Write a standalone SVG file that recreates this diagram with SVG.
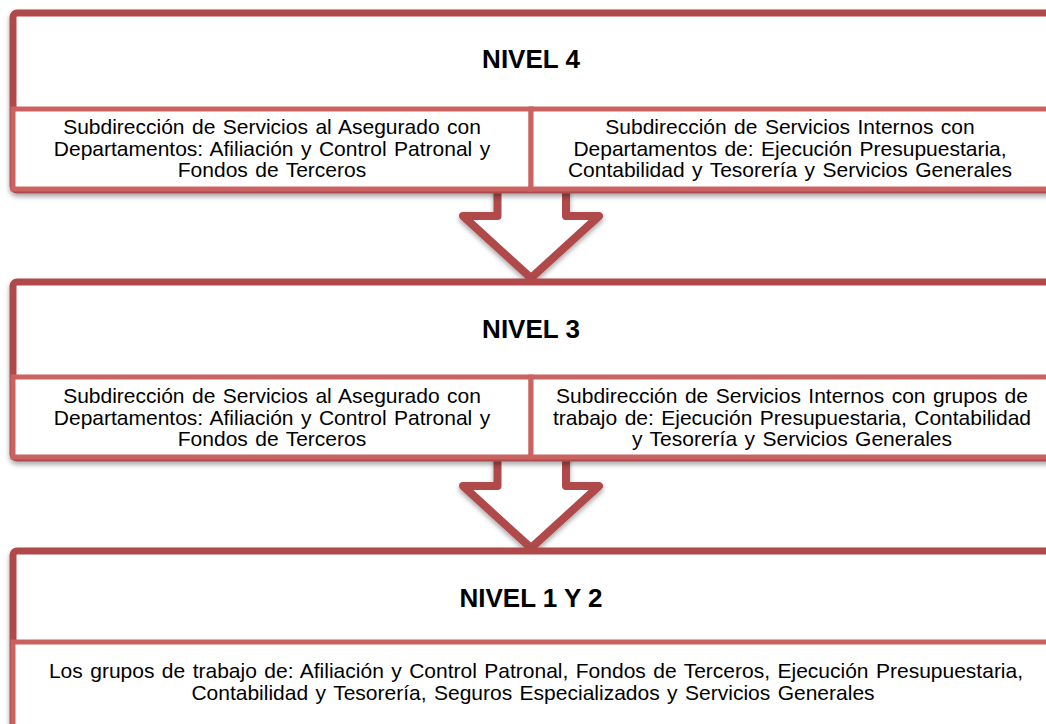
<svg xmlns="http://www.w3.org/2000/svg" width="1046" height="724" viewBox="0 0 1046 724">
  <style>
    .outer { fill: #ffffff; stroke: #B0484A; stroke-width: 7; }
    .sub { fill: #ffffff; stroke: #CB6262; stroke-width: 5; }
    .arrow { fill: #ffffff; stroke: #B0484A; stroke-width: 8; stroke-linejoin: round; }
    .title { font-family: "Liberation Sans", Arial, sans-serif; font-weight: bold; font-size: 26px; fill: #000000; text-anchor: middle; }
    .body { font-family: "Liberation Sans", Arial, sans-serif; font-size: 21px; fill: #000000; text-anchor: middle; word-spacing: 1.6px; }
  </style>
  <defs>
    <filter id="shadow" x="-5%" y="-10%" width="110%" height="130%">
      <feDropShadow dx="0" dy="3" stdDeviation="2.5" flood-color="#000000" flood-opacity="0.35"/>
    </filter>
  </defs>
  <rect width="1046" height="724" fill="#ffffff"/>

  <g id="connectors">
    <path class="arrow" filter="url(#shadow)" d="M497.5,180 L497.5,216 L463,216 L531,278 L599,216 L566,216 L566,180 Z"/>
    <path class="arrow" filter="url(#shadow)" d="M497.5,450 L497.5,486 L463,486 L531,548 L599,486 L566,486 L566,450 Z"/>
  </g>

  <g id="nivel4">
    <rect class="outer" filter="url(#shadow)" x="13" y="13" width="1045" height="177" rx="4"/>
    <text class="title" x="531" y="68">NIVEL 4</text>
    <g id="nivel4-a">
      <rect class="sub" x="13" y="109" width="518" height="80"/>
      <text class="body" x="272" y="134">Subdirección de Servicios al Asegurado con</text>
      <text class="body" x="272" y="155.5">Departamentos: Afiliación y Control Patronal y</text>
      <text class="body" x="272" y="177">Fondos de Terceros</text>
    </g>
    <g id="nivel4-b">
      <rect class="sub" x="531" y="109" width="527" height="80"/>
      <text class="body" x="790" y="134">Subdirección de Servicios Internos con</text>
      <text class="body" x="790" y="155.5">Departamentos de: Ejecución Presupuestaria,</text>
      <text class="body" x="790" y="177">Contabilidad y Tesorería y Servicios Generales</text>
    </g>
  </g>

  <g id="nivel3">
    <rect class="outer" filter="url(#shadow)" x="13" y="282" width="1045" height="176" rx="4"/>
    <text class="title" x="531" y="338">NIVEL 3</text>
    <g id="nivel3-a">
      <rect class="sub" x="13" y="377" width="518" height="80"/>
      <text class="body" x="272" y="403">Subdirección de Servicios al Asegurado con</text>
      <text class="body" x="272" y="424.5">Departamentos: Afiliación y Control Patronal y</text>
      <text class="body" x="272" y="446">Fondos de Terceros</text>
    </g>
    <g id="nivel3-b">
      <rect class="sub" x="531" y="377" width="527" height="80"/>
      <text class="body" x="792" y="403">Subdirección de Servicios Internos con grupos de</text>
      <text class="body" x="792" y="424.5">trabajo de: Ejecución Presupuestaria, Contabilidad</text>
      <text class="body" x="792" y="446">y Tesorería y Servicios Generales</text>
    </g>
  </g>

  <g id="nivel12">
    <rect class="outer" filter="url(#shadow)" x="13" y="551" width="1045" height="190" rx="4"/>
    <text class="title" x="531" y="607">NIVEL 1 Y 2</text>
    <g id="nivel12-a">
      <rect class="sub" x="13" y="642" width="1045" height="95"/>
      <text class="body" x="536" y="678">Los grupos de trabajo de: Afiliación y Control Patronal, Fondos de Terceros, Ejecución Presupuestaria,</text>
      <text class="body" x="533" y="700">Contabilidad y Tesorería, Seguros Especializados y Servicios Generales</text>
    </g>
  </g>
</svg>
